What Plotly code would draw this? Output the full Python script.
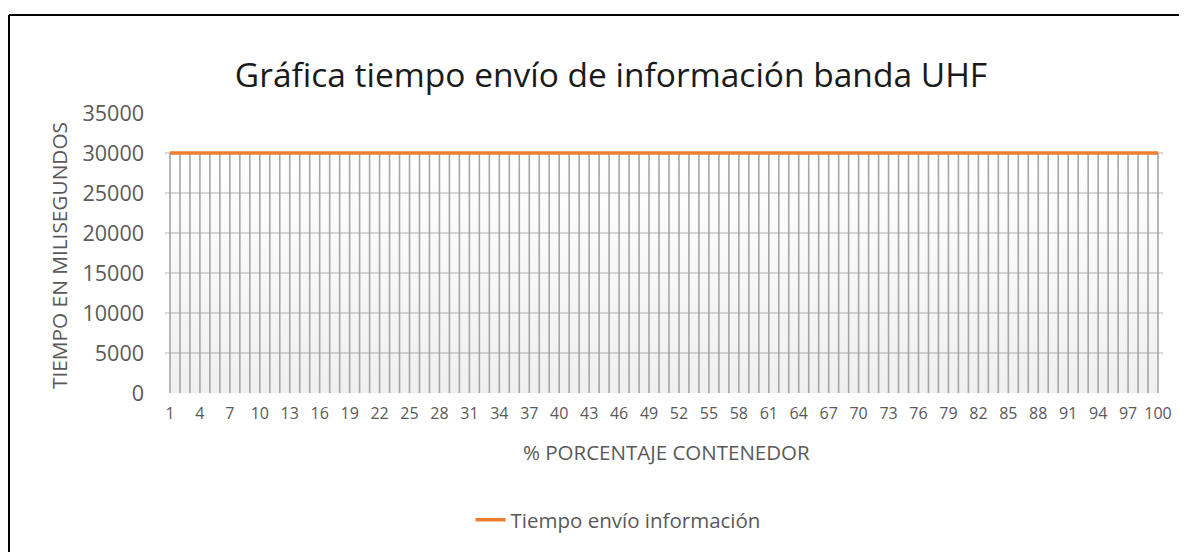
import plotly.graph_objects as go

categories = list(range(1, 101))
tiempo_ms = [30000] * 100
x_ticks = list(range(1, 101, 3))
y_ticks = [0, 5000, 10000, 15000, 20000, 25000, 30000, 35000]

# page body has an 8px margin; target coordinates below are screenshot pixels
OFF = 8
W, H = 1187 - OFF, 552 - OFF
L, R = 165 - OFF, 1187 - 1163
T, B = 113 - OFF, 552 - 393
pw, ph = W - L - R, H - T - B

def px(X):
    return (X - OFF - L) / pw

def py(Y):
    return (H - B - (Y - OFF)) / ph

# drop lines derived from the data
dx, dy = [], []
for c, v in zip(categories, tiempo_ms):
    dx += [c, c, None]
    dy += [0, v, None]

fig = go.Figure()
fig.add_trace(go.Scatter(x=categories, y=tiempo_ms, mode="none", fill="tozeroy",
                         fillgradient=dict(type="vertical",
                                           colorscale=[[0, "rgba(0,0,0,0.06)"], [1, "rgba(0,0,0,0.0)"]]),
                         showlegend=False, hoverinfo="skip"))
fig.add_trace(go.Scatter(x=dx, y=dy, mode="lines", line=dict(color="#a6a6a6", width=1.6),
                         showlegend=False, hoverinfo="skip"))
fig.add_trace(go.Scatter(x=categories, y=tiempo_ms, mode="lines",
                         line=dict(color="#ED7D31", width=3.5),
                         name="Tiempo envío información"))

font_family = "Open Sans, sans-serif"
grey = "#595959"
fig.update_layout(
    width=W, height=H,
    margin=dict(l=L, r=R, t=T, b=B, autoexpand=False),
    paper_bgcolor="white",
    plot_bgcolor="white",
    font=dict(family=font_family, color=grey),
    title=dict(text="Gráfica tiempo envío de información banda UHF",
               xref="container", x=(611 - OFF) / W, xanchor="center",
               yref="container", y=1 - (75 - OFF) / H, yanchor="middle",
               font=dict(size=33.5, color="#1a1a1a", family=font_family)),
    showlegend=True,
    legend=dict(orientation="h", x=px(618), xanchor="center", y=py(520), yanchor="middle",
                font=dict(size=20.5, color=grey), bgcolor="rgba(0,0,0,0)"),
    xaxis=dict(range=[0.5, 100.5], tickvals=x_ticks, ticktext=[str(v) for v in x_ticks],
               showgrid=False, zeroline=False, showline=False, ticks="", automargin=False,
               ticklabelstandoff=9,
               tickfont=dict(size=16, color=grey)),
    yaxis=dict(range=[0, 35000], tickvals=y_ticks, ticktext=[str(v) for v in y_ticks],
               showgrid=True, gridcolor="#d9d9d9",
               gridwidth=1.5, zeroline=False, showline=False, ticks="", automargin=False,
               ticklabelstandoff=20,
               tickfont=dict(size=21.5, color=grey)),
    annotations=[
        dict(text="% PORCENTAJE CONTENEDOR", xref="paper", yref="paper", x=px(666), y=py(452),
             xanchor="center", yanchor="middle", showarrow=False, font=dict(size=20.5, color=grey)),
        dict(text="TIEMPO EN MILISEGUNDOS", xref="paper", yref="paper", x=px(59), y=py(256),
             xanchor="center", yanchor="middle", textangle=-90, showarrow=False,
             font=dict(size=20.8, color=grey)),
    ],
    shapes=[
        dict(type="line", xref="paper", yref="paper", x0=px(9), x1=px(1200), y0=py(15), y1=py(15),
             line=dict(color="black", width=2)),
        dict(type="line", xref="paper", yref="paper", x0=px(9), x1=px(9), y0=py(15), y1=py(600),
             line=dict(color="black", width=2)),
    ],
)

fig.write_html("out.html")
